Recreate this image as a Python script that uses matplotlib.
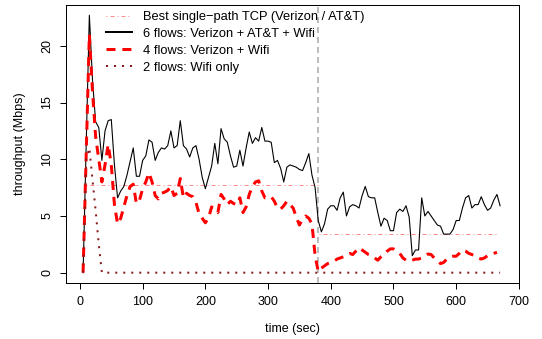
import numpy as np
import matplotlib
matplotlib.use('Agg')
from matplotlib import pyplot as plt
from matplotlib.lines import Line2D

plt.rcParams['font.family'] = ['Liberation Sans', 'DejaVu Sans']
plt.rcParams['font.size'] = 9

# sampling times (sec)
t6 = np.arange(5, 675, 5)
t4 = np.arange(5, 670, 5)
t2 = np.arange(5, 675, 5)

# 6 flows: Verizon + AT&T + Wifi
six_flows = [
    0, 11.5, 22.7, 17.0, 13.3, 12.8, 9.9, 12.5, 13.4, 13.5,
    9.5, 6.6, 7.2, 7.6, 8.6, 9.8, 11.0, 8.5, 8.5, 9.9,
    10.3, 11.7, 11.5, 9.9, 10.6, 11.0, 10.9, 11.2, 12.5, 11.0,
    11.2, 13.4, 11.2, 10.9, 10.2, 11.0, 11.2, 10.0, 8.4, 7.4,
    8.4, 9.4, 11.4, 9.6, 12.7, 11.8, 11.5, 10.3, 9.3, 9.4,
    10.8, 9.4, 11.0, 12.4, 11.4, 11.9, 11.6, 12.8, 11.6, 11.6,
    11.5, 9.7, 9.9, 9.2, 8.0, 9.3, 9.5, 9.4, 9.3, 9.1,
    9.0, 9.7, 10.5, 8.6, 7.5, 4.6, 3.6, 4.3, 5.6, 5.9,
    5.9, 5.5, 6.6, 7.1, 5.0, 5.8, 6.0, 5.9, 5.7, 6.8,
    7.6, 6.7, 6.6, 6.6, 5.3, 4.1, 4.8, 4.6, 3.7, 3.7,
    5.3, 5.6, 5.4, 5.9, 4.9, 1.5, 2.0, 2.0, 6.6, 5.0,
    5.4, 5.0, 4.6, 4.2, 4.1, 3.4, 3.4, 3.4, 3.8, 4.6,
    4.6, 5.7, 6.6, 6.8, 5.7, 6.0, 6.0, 6.7, 6.0, 5.5,
    5.7, 6.4, 6.9, 5.9,
]

# 4 flows: Verizon + Wifi
four_flows = [
    0, 10.5, 21.0, 16.0, 12.0, 10.0, 8.0, 9.5, 11.3, 9.5,
    6.0, 4.3, 4.8, 5.8, 6.8, 7.6, 7.8, 6.1, 6.4, 7.4,
    8.0, 8.8, 8.0, 6.8, 6.5, 7.0, 7.1, 7.25, 7.6, 6.8,
    7.0, 8.3, 6.6, 7.0, 6.8, 6.7, 6.2, 5.2, 4.8, 4.4,
    4.8, 5.8, 5.6, 5.3, 6.9, 6.5, 6.0, 6.3, 6.1, 6.0,
    6.6, 5.3, 5.8, 6.9, 7.6, 8.0, 8.1, 7.2, 6.6, 6.6,
    6.7, 6.3, 5.7, 5.6, 5.9, 6.3, 6.0, 5.7, 4.9, 4.2,
    4.7, 5.0, 4.8, 4.3, 1.5, 0.1, 0.4, 0.6, 0.8, 0.9,
    1.0, 1.2, 1.3, 1.4, 1.6, 1.7, 1.6, 1.9, 2.2, 2.0,
    1.8, 1.6, 1.5, 1.3, 1.1, 1.4, 1.6, 1.9, 2.1, 2.1,
    1.9, 1.7, 1.3, 1.1, 1.0, 1.1, 1.2, 1.2, 1.3, 1.5,
    1.65, 1.6, 1.3, 1.1, 0.8, 0.9, 1.2, 1.4, 1.45, 1.45,
    1.7, 2.0, 1.9, 1.7, 1.6, 1.5, 1.3, 1.2, 1.3, 1.5,
    1.6, 1.7, 1.8,
]

# 2 flows: Wifi only
two_flows = [0, 10.0, 11.0, 8.2, 5.5, 2.5] + [0] * 128

# best single-path TCP, two phases
best_level = [7.75, 3.42]
best_start = [10, 382]
best_end = [380, 668]
switch_time = 380

labels = ['Best single\u2212path TCP (Verizon / AT&T)',
          '6 flows: Verizon + AT&T + Wifi',
          '4 flows: Verizon + Wifi',
          '2 flows: Wifi only']

pink = '#ff8a8a'
dotcol = '#8b1a1a'
px = 0.72  # one pixel in points at dpi 100

fig = plt.figure(figsize=(5.42, 3.39), dpi=100)
ax = fig.add_axes([66.4 / 542, 56 / 339, (518.9 - 66.4) / 542, (283 - 5) / 339])

ax.axvline(switch_time, color='#bdbdbd', lw=2 * px, linestyle=(0, (3, 2)))
for lev, a, b in zip(best_level, best_start, best_end):
    ax.plot([a, b], [lev, lev], color=pink, lw=px, linestyle=(0, (1, 3, 4, 3)))
ax.plot(t6, six_flows, color='black', lw=1.1 * px)
ax.plot(t4, four_flows, color='red', lw=3 * px, linestyle=(0, (3, 2.3)))
ax.plot(t2, two_flows, color=dotcol, lw=2 * px, linestyle=(0, (1, 3)))

ax.set_xlim(-21.6, 696.6)
ax.set_ylim(-0.91, 23.6)
ax.set_xticks(range(0, 701, 100))
ax.set_yticks(range(0, 21, 5))
ax.set_yticklabels([str(v) for v in range(0, 21, 5)], rotation=90, va='center')
ax.tick_params(direction='out', length=6 * px, width=px, pad=5, labelsize=9)
for s in ax.spines.values():
    s.set_linewidth(px)
ax.set_xlabel('time (sec)', labelpad=11)
ax.set_ylabel('throughput (Mbps)', labelpad=11)

handles = [
    Line2D([], [], color=pink, lw=px, linestyle=(0, (1, 3, 4, 3))),
    Line2D([], [], color='black', lw=2 * px),
    Line2D([], [], color='red', lw=3 * px, linestyle=(0, (3, 2.3))),
    Line2D([], [], color=dotcol, lw=2 * px, linestyle=(0, (1, 3))),
]
ax.legend(handles, labels, loc='upper left', frameon=False,
          bbox_to_anchor=(106 / 542, 1 - 11 / 339), bbox_transform=fig.transFigure,
          borderpad=0, borderaxespad=0, handlelength=2.0, handletextpad=0.9,
          labelspacing=0.38, fontsize=9.3)

fig.savefig('out.png', dpi=100)
